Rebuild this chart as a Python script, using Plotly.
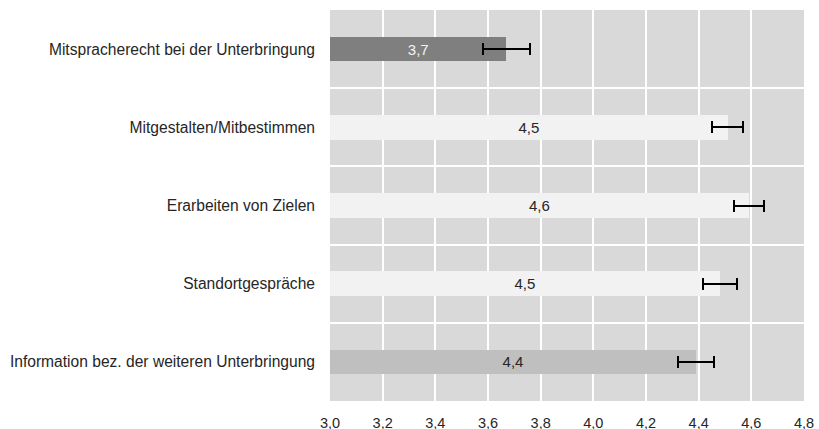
import plotly.graph_objects as go

categories = [
    "Mitspracherecht bei der Unterbringung",
    "Mitgestalten/Mitbestimmen",
    "Erarbeiten von Zielen",
    "Standortgespräche",
    "Information bez. der weiteren Unterbringung",
]
means = [3.67, 4.51, 4.59, 4.48, 4.39]
errors = [0.088, 0.058, 0.057, 0.065, 0.067]
bar_colors = ["#7f7f7f", "#f2f2f2", "#f2f2f2", "#f2f2f2", "#bfbfbf"]
text_colors = ["#f2f2f2", "#262626", "#262626", "#262626", "#262626"]
x_ticks = [3.0, 3.2, 3.4, 3.6, 3.8, 4.0, 4.2, 4.4, 4.6, 4.8]
axis_start = 3.0
axis_end = 4.8

FONT = "Liberation Sans, Arial, sans-serif"

fig = go.Figure(
    go.Bar(
        y=categories,
        x=[m - axis_start for m in means],
        base=axis_start,
        customdata=means,
        orientation="h",
        marker=dict(color=bar_colors, line=dict(width=0)),
        width=0.316,
        error_x=dict(type="data", array=errors, color="#000000", thickness=2, width=6),
        texttemplate="%{customdata:.1f}",
        textposition="inside",
        insidetextanchor="middle",
        textfont=dict(color=text_colors, size=15, family=FONT),
        hoverinfo="skip",
    )
)

fig.update_layout(
    width=819,
    height=429,
    margin=dict(l=330, r=15, t=10, b=28, autoexpand=False),
    plot_bgcolor="#d9d9d9",
    paper_bgcolor="#ffffff",
    separators=",.",
    showlegend=False,
    font=dict(family=FONT, size=15, color="#262626"),
    bargap=0,
)
fig.update_xaxes(
    range=[axis_start, axis_end],
    tickvals=x_ticks,
    tickformat=".1f",
    showgrid=True,
    gridcolor="#ffffff",
    gridwidth=2,
    zeroline=False,
    showline=False,
    ticks="",
    ticklabelstandoff=11,
    ticklabeloverflow="allow",
    tickfont=dict(size=14.5, color="#262626"),
    automargin=False,
)
fig.update_yaxes(
    type="category",
    categoryorder="array",
    categoryarray=categories,
    autorange="reversed",
    tickson="boundaries",
    showgrid=True,
    gridcolor="#ffffff",
    gridwidth=2,
    ticks="",
    ticklabelstandoff=14,
    tickfont=dict(size=15.6, color="#262626"),
    automargin=False,
)

fig.write_html(
    "out.html",
    config={"displayModeBar": False, "staticPlot": True},
    post_script="document.body.style.margin='0';document.body.style.overflow='hidden';",
)
